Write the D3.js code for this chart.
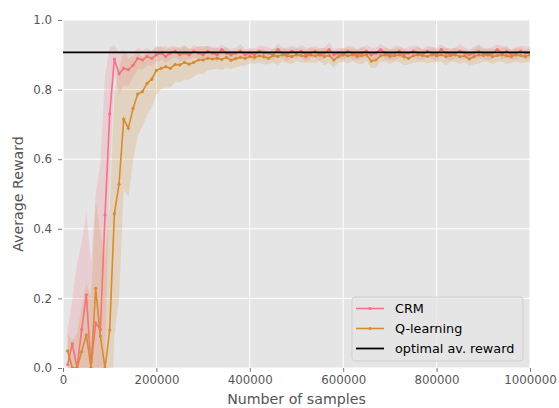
<!DOCTYPE html>
<html>
<head>
<meta charset="utf-8">
<script src="https://cdn.jsdelivr.net/npm/d3@7"></script>
<style>
  body { margin: 0; background: #fff; }
  svg { font-family: "DejaVu Sans", sans-serif; }
</style>
</head>
<body>
<div id="chart"></div>
<script>
// evaluation every 10000 samples
const steps = d3.range(1, 101).map(i => i * 10000);

const crm = [
  0.01, 0.07, 0.00, 0.11, 0.21, 0.00, 0.13, 0.11, 0.44, 0.73,
  0.888, 0.845, 0.861, 0.857, 0.87, 0.89, 0.885, 0.895, 0.89, 0.9,
  0.905, 0.895, 0.905, 0.91, 0.9, 0.905, 0.9, 0.91, 0.905, 0.9,
  0.91, 0.905, 0.9, 0.915, 0.905, 0.9, 0.905, 0.91, 0.9, 0.905,
  0.9, 0.91, 0.905, 0.905, 0.9, 0.915, 0.905, 0.9, 0.91, 0.905,
  0.91, 0.9, 0.905, 0.91, 0.9, 0.905, 0.915, 0.9, 0.905, 0.9,
  0.91, 0.905, 0.9, 0.905, 0.91, 0.9, 0.905, 0.915, 0.905, 0.9,
  0.905, 0.91, 0.9, 0.905, 0.91, 0.905, 0.9, 0.91, 0.905, 0.9,
  0.915, 0.905, 0.9, 0.905, 0.91, 0.905, 0.9, 0.905, 0.91, 0.905,
  0.9, 0.905, 0.915, 0.905, 0.91, 0.9, 0.905, 0.91, 0.905, 0.905
];
const crmSpread = [
  0.1, 0.13, 0.3, 0.25, 0.24, 0.3, 0.37, 0.48, 0.4, 0.19,
  0.04, 0.06, 0.05, 0.045, 0.035, 0.03, 0.028, 0.025, 0.022, 0.02,
  0.02, 0.018, 0.02, 0.015, 0.018, 0.02, 0.015, 0.018, 0.016, 0.02,
  0.015, 0.018, 0.02, 0.015, 0.016, 0.018, 0.015, 0.02, 0.016, 0.015,
  0.018, 0.015, 0.02, 0.016, 0.015, 0.018, 0.015, 0.02, 0.016, 0.015,
  0.018, 0.02, 0.015, 0.016, 0.018, 0.015, 0.02, 0.016, 0.015, 0.018,
  0.015, 0.02, 0.016, 0.015, 0.018, 0.02, 0.015, 0.016, 0.018, 0.015,
  0.02, 0.016, 0.015, 0.018, 0.015, 0.02, 0.016, 0.015, 0.018, 0.02,
  0.015, 0.016, 0.018, 0.015, 0.02, 0.016, 0.015, 0.018, 0.02, 0.015,
  0.016, 0.018, 0.015, 0.02, 0.016, 0.015, 0.018, 0.015, 0.02, 0.016
];

const qlearn = [
  0.049, 0.0, 0.0, 0.047, 0.095, 0.0, 0.229, 0.092, 0.0, 0.109,
  0.443, 0.528, 0.715, 0.689, 0.746, 0.787, 0.794, 0.818, 0.83, 0.855,
  0.861, 0.866, 0.861, 0.872, 0.871, 0.878, 0.873, 0.878, 0.885, 0.885,
  0.89, 0.888, 0.89, 0.887, 0.892, 0.884, 0.889, 0.893, 0.89, 0.895,
  0.893, 0.897, 0.895, 0.89, 0.898, 0.895, 0.9, 0.897, 0.895, 0.9,
  0.898, 0.895, 0.9, 0.897, 0.9, 0.895, 0.898, 0.885, 0.895, 0.9,
  0.897, 0.9, 0.895, 0.898, 0.9, 0.882, 0.885, 0.897, 0.9, 0.895,
  0.898, 0.9, 0.895, 0.89, 0.897, 0.9, 0.898, 0.895, 0.9, 0.897,
  0.9, 0.895, 0.898, 0.9, 0.895, 0.897, 0.888, 0.895, 0.9, 0.898,
  0.9, 0.895, 0.898, 0.9, 0.897, 0.895, 0.9, 0.898, 0.895, 0.9
];
const qSpread = [
  0.05, 0.08, 0.1, 0.13, 0.15, 0.2, 0.25, 0.3, 0.32, 0.35,
  0.35, 0.33, 0.2, 0.2, 0.15, 0.12, 0.1, 0.09, 0.08, 0.07,
  0.06, 0.06, 0.055, 0.05, 0.05, 0.05, 0.045, 0.04, 0.04, 0.04,
  0.035, 0.03, 0.03, 0.03, 0.03, 0.025, 0.025, 0.025, 0.02, 0.02,
  0.018, 0.02, 0.022, 0.018, 0.02, 0.025, 0.018, 0.02, 0.022, 0.018,
  0.02, 0.018, 0.022, 0.02, 0.018, 0.025, 0.02, 0.022, 0.018, 0.02,
  0.022, 0.018, 0.02, 0.025, 0.018, 0.02, 0.022, 0.018, 0.02, 0.022,
  0.018, 0.02, 0.025, 0.018, 0.02, 0.022, 0.018, 0.02, 0.022, 0.018,
  0.02, 0.025, 0.018, 0.02, 0.022, 0.018, 0.02, 0.022, 0.025, 0.018,
  0.02, 0.022, 0.018, 0.02, 0.025, 0.018, 0.02, 0.022, 0.018, 0.02
];

const optimal = 0.907;

const xTicks = [0, 200000, 400000, 600000, 800000, 1000000];
const yTicks = [0.0, 0.2, 0.4, 0.6, 0.8, 1.0];

const series = [
  {name: "CRM", mean: crm, spread: crmSpread, color: "#f77189"},
  {name: "Q-learning", mean: qlearn, spread: qSpread, color: "#d58c32"}
];

const width = 559, height = 408,
      margin = ({top: 20, right: 29, bottom: 40, left: 63});

const svg = d3.select("#chart")
  .append("svg")
  .attr("width", width)
  .attr("height", height);

const x = d3.scaleLinear()
  .domain([0, 1000000])
  .range([margin.left, width - margin.right]);

const y = d3.scaleLinear()
  .domain([0, 1])
  .range([height - margin.bottom, margin.top]);

// grey panel
svg.append("rect")
  .attr("x", x(0)).attr("y", y(1))
  .attr("width", x(1000000) - x(0))
  .attr("height", y(0) - y(1))
  .attr("fill", "#e5e5e5");

svg.append("clipPath").attr("id", "clip")
  .append("rect")
  .attr("x", x(0)).attr("y", y(1))
  .attr("width", x(1000000) - x(0))
  .attr("height", y(0) - y(1));

// grid
svg.append("g").selectAll("line").data(xTicks).join("line")
  .attr("x1", d => x(d)).attr("x2", d => x(d))
  .attr("y1", y(0)).attr("y2", y(1))
  .attr("stroke", "#fff").attr("stroke-width", 1);
svg.append("g").selectAll("line").data(yTicks).join("line")
  .attr("x1", x(0)).attr("x2", x(1000000))
  .attr("y1", d => y(d)).attr("y2", d => y(d))
  .attr("stroke", "#fff").attr("stroke-width", 1);

// axes
const xAxis = g => g
  .attr("transform", `translate(0,${y(0)})`)
  .call(d3.axisBottom(x).tickValues(xTicks).tickFormat(d3.format("d")).tickSizeInner(4).tickSizeOuter(0).tickPadding(4));
const yAxis = g => g
  .attr("transform", `translate(${x(0) - 1},0)`)
  .call(d3.axisLeft(y).tickValues(yTicks).tickFormat(d3.format(".1f")).tickSizeInner(4).tickSizeOuter(0).tickPadding(6));

for (const ax of [xAxis, yAxis]) {
  svg.append("g").call(ax)
    .call(g => g.select(".domain").remove())
    .call(g => g.selectAll("line").attr("stroke", "#555").attr("stroke-width", 0.8))
    .call(g => g.selectAll("text").attr("fill", "#555")
      .style("font-size", "11.8px").style("font-family", "DejaVu Sans"));
}

// axis labels
svg.append("text")
  .attr("x", (x(0) + x(1000000)) / 2).attr("y", 403.5)
  .attr("text-anchor", "middle")
  .attr("fill", "#555").style("font-size", "14.2px")
  .text("Number of samples");
svg.append("text")
  .attr("transform", `translate(22.7,${(y(0) + y(1)) / 2}) rotate(-90)`)
  .attr("text-anchor", "middle")
  .attr("fill", "#555").style("font-size", "14.2px")
  .text("Average Reward");

const plot = svg.append("g").attr("clip-path", "url(#clip)");

for (const s of series) {
  const area = d3.area()
    .x((d, i) => x(steps[i]))
    .y0((d, i) => y(d - s.spread[i]))
    .y1((d, i) => y(d + s.spread[i]));
  plot.append("path")
    .datum(s.mean)
    .attr("d", area)
    .attr("fill", s.color)
    .attr("fill-opacity", 0.2);

  const line = d3.line()
    .x((d, i) => x(steps[i]))
    .y(d => y(d));
  plot.append("path")
    .datum(s.mean)
    .attr("d", line)
    .attr("fill", "none")
    .attr("stroke", s.color)
    .attr("stroke-width", 1.6);

  plot.append("g").selectAll("circle")
    .data(s.mean)
    .join("circle")
    .attr("cx", (d, i) => x(steps[i]))
    .attr("cy", d => y(d))
    .attr("r", 1.6)
    .attr("fill", s.color);
}

// optimal average reward
plot.append("line")
  .attr("x1", x(0)).attr("x2", x(1000000))
  .attr("y1", y(optimal)).attr("y2", y(optimal))
  .attr("stroke", "#000").attr("stroke-width", 1.8);

// legend
const legendItems = [
  {name: "CRM", color: "#f77189", marker: true},
  {name: "Q-learning", color: "#d58c32", marker: true},
  {name: "optimal av. reward", color: "#000", marker: false}
];
const legend = svg.append("g").attr("transform", "translate(352,297)");
legend.append("rect")
  .attr("width", 171).attr("height", 64)
  .attr("rx", 3)
  .attr("fill", "#e5e5e5").attr("fill-opacity", 0.8)
  .attr("stroke", "#cccccc").attr("stroke-opacity", 0.8).attr("stroke-width", 1);

const item = legend.selectAll(".item")
  .data(legendItems)
  .join("g")
  .attr("class", "item")
  .attr("transform", (d, i) => `translate(0,${11.5 + i * 20})`);
item.append("line")
  .attr("x1", 4).attr("x2", 32)
  .attr("stroke", d => d.color)
  .attr("stroke-width", d => d.marker ? 1.6 : 1.8);
item.filter(d => d.marker).append("circle")
  .attr("cx", 18).attr("r", 1.6)
  .attr("fill", d => d.color);
item.append("text")
  .attr("x", 43).attr("dy", "0.35em")
  .style("font-size", "12.8px")
  .attr("fill", "#000")
  .text(d => d.name);
</script>
</body>
</html>
